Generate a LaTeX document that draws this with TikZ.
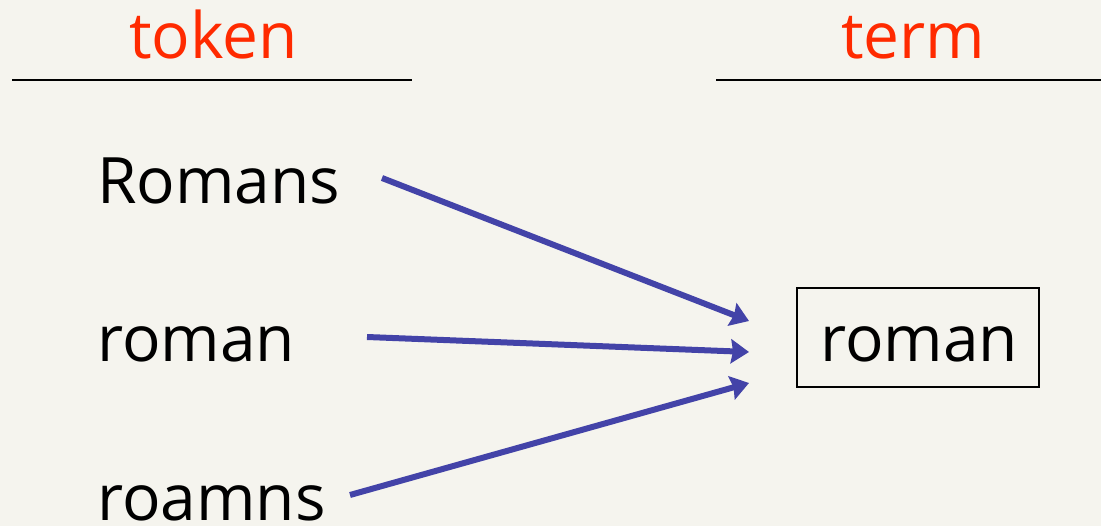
\documentclass[tikz,border=0pt]{standalone}
\usepackage{fontspec}
\setmainfont{Open Sans}
\usetikzlibrary{arrows.meta}
\definecolor{paper}{HTML}{F5F4EE}
\definecolor{headred}{HTML}{FF2A00}
\definecolor{arrowblue}{HTML}{4343A8}
\tikzset{
  word/.style={anchor=base west, inner sep=0pt, text depth=0pt, font=\fontsize{64}{70}\selectfont},
  head/.style={word, text=headred},
  rule/.style={line width=2.2pt, black},
  termbox/.style={draw, line width=1.6pt, minimum width=242pt, minimum height=99pt, inner sep=0pt},
  map/.style={arrowblue, line width=6pt, -{Stealth[length=18pt, width=24pt, inset=2pt]}},
}
\begin{document}
\begin{tikzpicture}[x=1pt, y=-1pt]
  \fill[paper] (0,0) rectangle (1101,526);
  \useasboundingbox (0,0) rectangle (1101,526);

  % column heads
  \node[head] (htoken) at (129,59) {token};
  \node[head] (hterm) at (841,59) {term};
  \coordinate (r1a) at (12,80);
  \coordinate (r1b) at (412,80);
  \coordinate (r2a) at (716,80);
  \coordinate (r2b) at (1101,80);
  \draw[rule] (r1a) -- (r1b);
  \draw[rule] (r2a) -- (r2b);

  % tokens
  \node[word] (t1) at (97,204) {Romans};
  \node[word] (t2) at (97,362) {roman};
  \node[word] (t3) at (97,520) {roamns};

  % normalized term
  \node[termbox] (box) at (918,337.5) {};
  \node[word] (term) at (820,362) {roman};

  % arrow ends
  \coordinate (s1) at (382,178);
  \coordinate (s2) at (367,337);
  \coordinate (s3) at (350,495);
  \coordinate (e1) at (749,321);
  \coordinate (e2) at (749,352);
  \coordinate (e3) at (749,383);

  \draw[map] (s1) -- (e1);
  \draw[map] (s2) -- (e2);
  \draw[map] (s3) -- (e3);
\end{tikzpicture}
\end{document}
